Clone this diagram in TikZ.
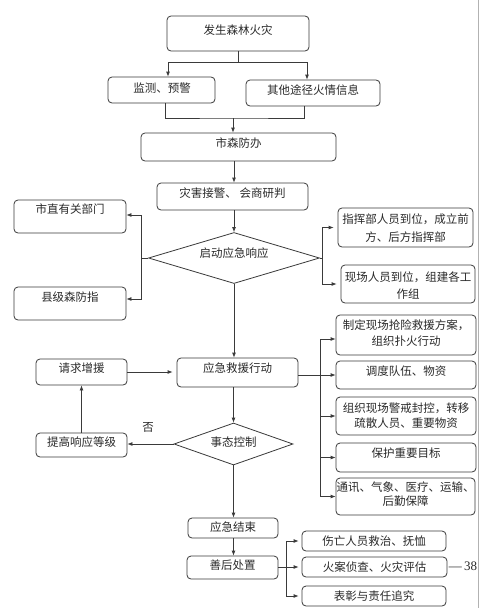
\documentclass[tikz,border=0pt]{standalone}
\usepackage{fontspec}
\setmainfont{Noto Sans CJK SC}
\newfontfamily\latinserif{Liberation Serif}
\usetikzlibrary{arrows.meta,shapes.geometric,fit}
\definecolor{linecol}{HTML}{3A3A3A}
\definecolor{textcol}{HTML}{2A2A2A}
\tikzset{
  box/.style={draw=linecol, line width=0.8pt, rounded corners=4pt, inner sep=0pt},
  dia/.style={draw=linecol, diamond, line width=0.8pt, inner sep=0pt},
  txt/.style={font=\fontsize{11.5}{16}\selectfont, text=textcol, align=center, inner sep=0pt},
  ln/.style={draw=linecol, line width=0.8pt},
  arr/.style={draw=linecol, line width=0.8pt, -{Latex[length=5pt,width=4pt]}},
}
\begin{document}
\begin{tikzpicture}[x=1pt,y=-1pt]
\fill[white] (0,0) rectangle (480,608);
\useasboundingbox (0,0) rectangle (480,608);
\draw[gray!60, line width=0.6pt] (478,0) -- (478,608);

% boxes
\node[box, fit={(167,16) (309,51)}] (fire) {};
\node[box, fit={(108,77) (215,103)}] (jc) {};
\node[box, fit={(246,80) (380,106)}] (qt) {};
\node[box, fit={(141,133) (336,161)}] (ssfb) {};
\node[box, fit={(157,183) (308,210)}] (zhjj) {};
\node[dia, minimum width=171pt, minimum height=51pt] (d1) at (234,258) {};
\node[box, fit={(14,200) (126,233)}] (szyg) {};
\node[box, fit={(14,287) (126,320)}] (xj) {};
\node[box, fit={(338,208) (473,247)}] (zhb) {};
\node[box, fit={(341,265) (475,303)}] (xc) {};
\node[box, fit={(177,358) (298,387)}] (yjjy) {};
\node[box, fit={(36,359) (127,385)}] (qqzy) {};
\node[box, fit={(36,433) (127,457)}] (tgxy) {};
\node[dia, minimum width=119pt, minimum height=42pt] (d2) at (233.5,444) {};
\node[box, fit={(336,315) (476,355)}] (r1) {};
\node[box, fit={(336,361) (476,389)}] (r2) {};
\node[box, fit={(336,397) (476,435)}] (r3) {};
\node[box, fit={(336,443) (476,472)}] (r4) {};
\node[box, fit={(336,478) (475,515)}] (r5) {};
\node[box, fit={(188,518) (278,538)}] (yjjs) {};
\node[box, fit={(187,556) (278,579)}] (shcz) {};
\node[box, fit={(302,531) (446,551)}] (b1) {};
\node[box, fit={(302,557) (447,577)}] (b2) {};
\node[box, fit={(302,586) (446,606)}] (b3) {};

% texts
\node[txt] (fire-t) at (238,30) {发生森林火灾};
\node[txt] (jc-t) at (162,88) {监测、预警};
\node[txt] (qt-t) at (313,90) {其他途径火情信息};
\node[txt] (ssfb-t) at (238.5,143) {市森防办};
\node[txt] (zhjj-t) at (232.5,193) {灾害接警、 会商研判};
\node[txt] (d1-t) at (234,253) {启动应急响应};
\node[txt] (szyg-t) at (70,209) {市直有关部门};
\node[txt] (xj-t) at (70,297) {县级森防指};
\node[txt] (zhb-t) at (405.5,228) {指挥部人员到位，成立前\\[2pt]方、后方指挥部};
\node[txt] (xc-t) at (408,285.5) {现场人员到位，组建各工\\[1pt]作组};
\node[txt] (yjjy-t) at (237.5,368) {应急救援行动};
\node[txt] (qqzy-t) at (81.5,368) {请求增援};
\node[txt] (tgxy-t) at (81.5,442) {提高响应等级};
\node[txt] (d2-t) at (233.5,442) {事态控制};
\node[txt] (no) at (148,427) {否};
\node[txt] (r1-t) at (406,333) {制定现场抢险救援方案，\\组织扑火行动};
\node[txt] (r2-t) at (406,371) {调度队伍、物资};
\node[txt] (r3-t) at (406,415.5) {组织现场警戒封控，转移\\[-1pt]疏散人员、重要物资};
\node[txt] (r4-t) at (406,453) {保护重要目标};
\node[txt] (r5-t) at (405.5,494) {通讯、气象、医疗、运输、\\[-2pt]后勤保障};
\node[txt] (yjjs-t) at (233,527) {应急结束};
\node[txt] (shcz-t) at (232.5,565) {善后处置};
\node[txt] (b1-t) at (374,541) {伤亡人员救治、抚恤};
\node[txt] (b2-t) at (374.5,567) {火案侦查、火灾评估};
\node[txt] (b3-t) at (374,596) {表彰与责任追究};
\node[font=\latinserif\fontsize{13}{13}\selectfont, text=textcol, inner sep=0pt] (pg) at (463,566) {—\,38};

% connectors
\coordinate (s1) at (238,62);
\draw[ln] (fire.south) -- (s1);
\draw[arr] (s1) -| ([xshift=6.5pt]jc.north);
\draw[arr] (s1) -| ([xshift=-6pt]qt.north);
\coordinate (m1) at (233,118);
\draw[ln] ([xshift=3.5pt]jc.south) |- (m1) -| ([xshift=-9pt]qt.south);
\draw[arr] (m1) -- (m1 |- ssfb.north);
\coordinate (sp) at (234,0);
\draw[arr] (sp |- ssfb.south) -- (sp |- zhjj.north);
\draw[arr] (sp |- zhjj.south) -- (d1.north);

\coordinate (lb) at (141,258);
\draw[ln] (d1.west) -- (lb);
\draw[arr] (lb) |- ([yshift=1.5pt]szyg.east);
\draw[arr] (lb) |- ([yshift=4.5pt]xj.east);
\coordinate (rb) at (322,258);
\draw[ln] (d1.east) -- (rb);
\draw[arr, shorten >=4pt] (rb) |- (zhb.west);
\draw[arr, shorten >=4pt] (rb) |- (xc.west);

\draw[arr] (d1.south) -- (d1.south |- yjjy.north);
\draw[arr, shorten >=4pt] (qqzy.east) -- (qqzy.east -| yjjy.west);

\coordinate (xb) at (320,0);
\coordinate (bt) at (320,339);
\draw[arr] (r2.west -| yjjy.east) -- (r2.west);
\draw[ln] (bt) -- (xb |- r5.west);
\draw[arr] (bt) -- (bt -| r1.west);
\draw[arr] (xb |- r3.west) -- (r3.west);
\draw[arr] (xb |- r4.west) -- (r4.west);
\draw[arr] (xb |- r5.west) -- (r5.west);

\draw[arr] (d2.north |- yjjy.south) -- (d2.north);
\draw[arr] (d2.west) -- (d2.west -| tgxy.east);
\draw[arr] (tgxy.north) -- (tgxy.north |- qqzy.south);
\draw[arr] (d2.south) -- (d2.south |- yjjs.north);
\draw[arr] (d2.south |- yjjs.south) -- (d2.south |- shcz.north);

\coordinate (hb) at (286,0);
\draw[ln] (shcz.east) -- (shcz.east -| hb);
\draw[ln] (hb |- b1.west) -- (hb |- b3.west);
\draw[arr, shorten >=3pt] (hb |- b1.west) -- (b1.west);
\draw[arr, shorten >=3pt] (hb |- b2.west) -- (b2.west);
\draw[arr, shorten >=3pt] (hb |- b3.west) -- (b3.west);
\end{tikzpicture}
\end{document}
